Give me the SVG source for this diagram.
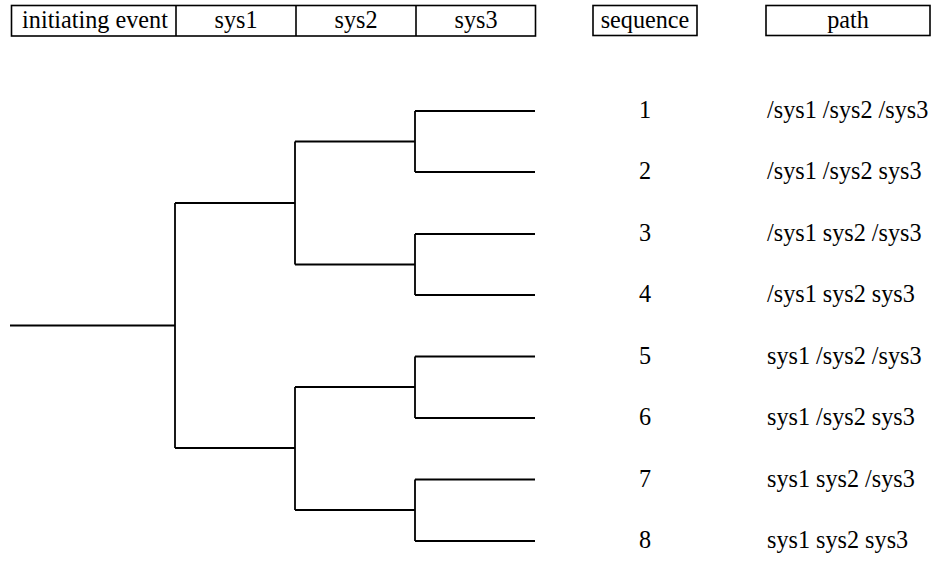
<svg xmlns="http://www.w3.org/2000/svg" width="932" height="563" viewBox="0 0 932 563">
<style>
.box{fill:none;stroke:#000;stroke-width:1.6}
.t{font-family:"Liberation Serif","Times New Roman",serif;font-size:24.2px;fill:#000}
.m{text-anchor:middle}
.ln{fill:none;stroke:#000;stroke-width:1.8}
</style>
<rect width="932" height="563" fill="#fff"/>
<g id="header">
<rect class="box" x="11.5" y="5.5" width="524" height="30.5"/>
<line class="box" x1="176" y1="5.5" x2="176" y2="36"/>
<line class="box" x1="296" y1="5.5" x2="296" y2="36"/>
<line class="box" x1="416" y1="5.5" x2="416" y2="36"/>
<text class="t m" x="95" y="28">initiating event</text>
<text class="t m" x="236" y="28">sys1</text>
<text class="t m" x="356" y="28">sys2</text>
<text class="t m" x="476" y="28">sys3</text>
</g>
<g id="sequence-header">
<rect class="box" x="593" y="5.5" width="104" height="30"/>
<text class="t m" x="645" y="28">sequence</text>
</g>
<g id="path-header">
<rect class="box" x="766" y="5.5" width="164" height="30"/>
<text class="t m" x="848" y="28">path</text>
</g>
<g id="connectors" class="ln">
<path d="M10 325.5H175"/>
<path d="M175 203V448"/>
<path d="M175 203H295"/>
<path d="M175 448H295"/>
<path d="M295 141.5V264.5"/>
<path d="M295 387V510"/>
<path d="M295 141.5H415M295 264.5H415M295 387H415M295 510H415"/>
<path d="M415 111V172M415 234V295M415 356.5V418M415 479.5V541"/>
<path d="M415 111H535M415 172H535M415 234H535M415 295H535M415 356.5H535M415 418H535M415 479.5H535M415 541H535"/>
</g>
<g id="seq1"><text class="t m" x="645" y="118">1</text><text class="t" x="767" y="118">/sys1 /sys2 /sys3</text></g>
<g id="seq2"><text class="t m" x="645" y="179">2</text><text class="t" x="767" y="179">/sys1 /sys2 sys3</text></g>
<g id="seq3"><text class="t m" x="645" y="241">3</text><text class="t" x="767" y="241">/sys1 sys2 /sys3</text></g>
<g id="seq4"><text class="t m" x="645" y="302">4</text><text class="t" x="767" y="302">/sys1 sys2 sys3</text></g>
<g id="seq5"><text class="t m" x="645" y="364">5</text><text class="t" x="767" y="364">sys1 /sys2 /sys3</text></g>
<g id="seq6"><text class="t m" x="645" y="425">6</text><text class="t" x="767" y="425">sys1 /sys2 sys3</text></g>
<g id="seq7"><text class="t m" x="645" y="487">7</text><text class="t" x="767" y="487">sys1 sys2 /sys3</text></g>
<g id="seq8"><text class="t m" x="645" y="548">8</text><text class="t" x="767" y="548">sys1 sys2 sys3</text></g>
</svg>
